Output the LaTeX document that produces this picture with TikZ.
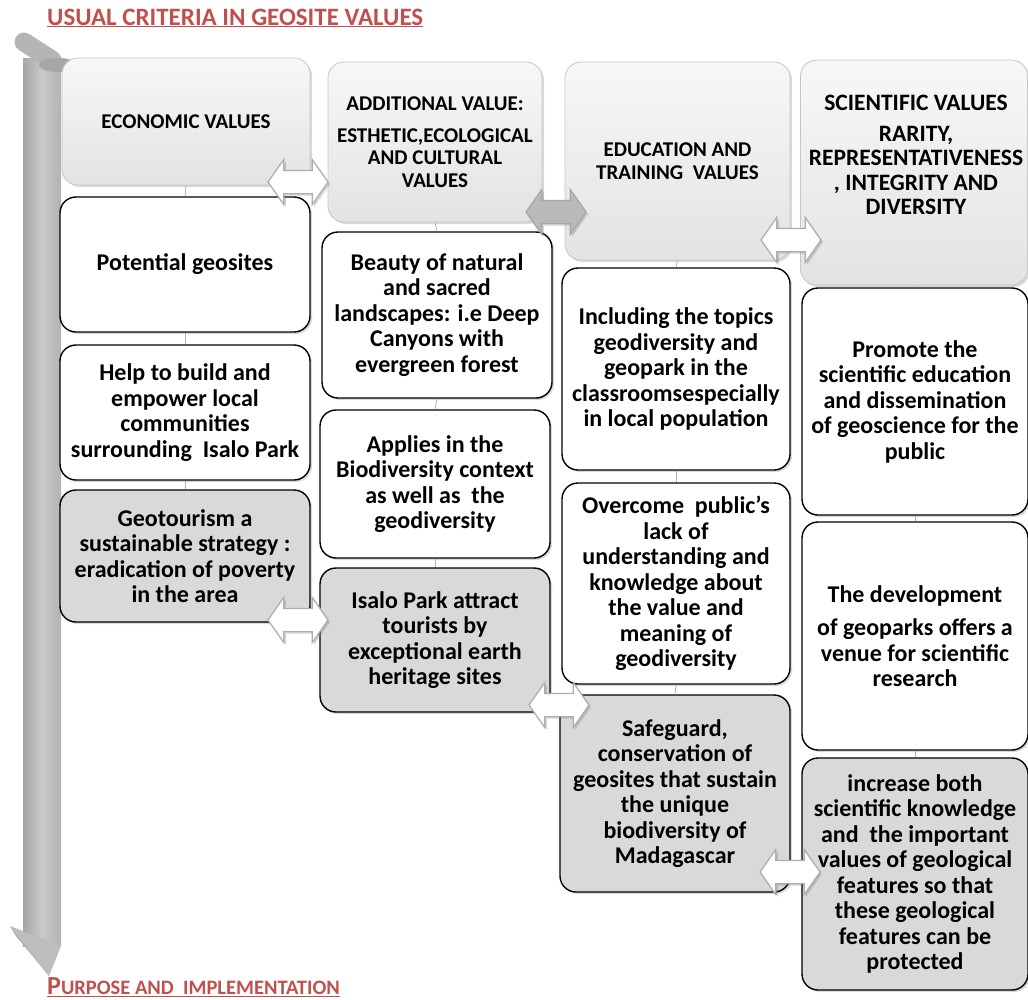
\documentclass[tikz,border=0pt]{standalone}
\usepackage{fontspec}
\setmainfont{Carlito}
\usetikzlibrary{shapes.arrows,shadows}
\definecolor{titlered}{RGB}{192,80,77}
\definecolor{boxgray}{RGB}{217,217,217}
\newcommand{\bodyfnt}{\fontsize{24}{25.5}\selectfont\bfseries}
\newcommand{\headfnt}{\fontsize{21}{22.5}\selectfont\bfseries}
\begin{document}
\begin{tikzpicture}[x=1pt,y=-1pt,
  base/.style={rounded corners=16pt, align=center, inner sep=4pt, font=\bodyfnt,
    drop shadow={opacity=0.3,shadow xshift=2pt,shadow yshift=-2pt}},
  wbox/.style={base, draw=black, line width=1.4pt, fill=white},
  gbox/.style={base, draw=black, line width=1.4pt, fill=boxgray},
  hbox/.style={base, draw=gray!45, line width=0.8pt, top color=gray!6, bottom color=gray!22, font=\headfnt},
  darr/.style={double arrow, double arrow head extend=11pt, double arrow tip angle=110,
    minimum height=60pt, inner sep=0pt, draw=gray!65, line width=1.2pt,
    fill=white, drop shadow={opacity=0.35,shadow xshift=2pt,shadow yshift=-2pt}},
  tickline/.style={draw=gray!60, line width=0.8pt},
  ttl/.style={anchor=west, text=titlered, inner sep=0pt}]
\useasboundingbox (0,0) rectangle (1028,999);
% titles
\node[ttl, font=\fontsize{25}{28}\selectfont\bfseries] (top) at (47,18) {\underline{USUAL CRITERIA IN GEOSITE VALUES}};
\node[ttl, font=\bfseries] (bot) at (47,987) {\underline{{\fontsize{26}{28}\selectfont P}{\fontsize{20.5}{24}\selectfont URPOSE AND\ \ IMPLEMENTATION}}};
% left vertical arrow
\shade[left color=gray!70, right color=gray!60, middle color=gray!42] (23,58) rectangle (61,946);
\fill[gray!68] (10,926) -- (16,936) -- (49,976) -- (40,950) -- cycle;
\fill[gray!52] (10,926) -- (61,946) -- (49,976) -- cycle;
\draw[line width=19pt, gray!58, line cap=round] (24,42) -- (52,60);
\fill[gray!70] (58,65) ellipse (19 and 7);
% column 1
\node[hbox, minimum width=248pt, minimum height=127pt] (H1) at (186,121.5) {ECONOMIC VALUES};
\node[wbox, minimum width=250pt, minimum height=135pt] (B1) at (185,264.5) {Potential geosites};
\node[wbox, minimum width=250pt, minimum height=135pt] (B2) at (185,412.5) {Help to build and\\empower local\\communities\\surrounding\ \ Isalo Park};
\node[gbox, minimum width=250pt, minimum height=132pt] (B3) at (185,556) {Geotourism a\\sustainable strategy :\\eradication of poverty\\in the area};
% column 2
\node[hbox, minimum width=214pt, minimum height=160pt] (H2) at (435,142) {ADDITIONAL VALUE:\\[9pt]ESTHETIC,ECOLOGICAL\\AND CULTURAL\\VALUES};
\node[wbox, minimum width=230pt, minimum height=166pt] (B4) at (437,315) {Beauty of natural\\and sacred\\landscapes: i.e Deep\\Canyons with\\evergreen forest};
\node[wbox, minimum width=230pt, minimum height=148pt] (B5) at (435,484) {Applies in the\\Biodiversity context\\as well as\ \ the\\geodiversity};
\node[gbox, minimum width=230pt, minimum height=144pt] (B6) at (435,640) {Isalo Park attract\\tourists by\\exceptional earth\\heritage sites};
% column 3
\node[hbox, minimum width=225pt, minimum height=198pt] (H3) at (677.5,161) {EDUCATION AND\\TRAINING\ \ VALUES};
\node[wbox, minimum width=228pt, minimum height=202pt] (B7) at (676,369) {Including the topics\\geodiversity and\\geopark in the\\classroomsespecially\\in local population};
\node[wbox, minimum width=228pt, minimum height=201pt] (B8) at (676,583.5) {Overcome\ \ public’s\\lack of\\understanding and\\knowledge about\\the value and\\meaning of\\geodiversity};
\node[gbox, minimum width=230pt, minimum height=197pt] (B9) at (675,793.5) {Safeguard,\\conservation of\\geosites that sustain\\the unique\\biodiversity of\\Madagascar};
% column 4
\node[hbox, minimum width=227pt, minimum height=225pt] (H4) at (914,172.5) {};
\node[align=center, font=\fontsize{23.5}{24.5}\selectfont\bfseries, inner sep=0pt] (H4t) at (916,155) {SCIENTIFIC VALUES\\[6pt]RARITY,\\REPRESENTATIVENESS\\, INTEGRITY AND\\DIVERSITY};
\node[wbox, minimum width=226pt, minimum height=227pt] (B10) at (915,401.5) {Promote the\\scientific education\\and dissemination\\of geoscience for the\\public};
\node[wbox, minimum width=226pt, minimum height=228pt] (B11) at (915,636) {The development\\[8pt]of geoparks offers a\\venue for scientific\\research};
\node[gbox, minimum width=226pt, minimum height=232pt] (B12) at (915,874) {increase both\\scientific knowledge\\and\ \ the important\\values of geological\\features so that\\these geological\\features can be\\protected};
% small connectors
\foreach \a/\b in {H1/B1,B1/B2,B2/B3,H2/B4,B4/B5,B5/B6,H3/B7,B7/B8,B8/B9,H4/B10,B10/B11,B11/B12}
  \draw[tickline] (\a.south) -- (\b.north);
% double arrows
\node[darr] (A1) at (298,182) {\rule{0pt}{22pt}};
\node[darr, fill=gray!55, draw=gray!70] (A2) at (556,212) {\rule{0pt}{22pt}};
\node[darr] (A3) at (791,240) {\rule{0pt}{22pt}};
\node[darr] (A4) at (298,620) {\rule{0pt}{22pt}};
\node[darr] (A5) at (559,705) {\rule{0pt}{22pt}};
\node[darr] (A6) at (790,872) {\rule{0pt}{22pt}};
\end{tikzpicture}
\end{document}
